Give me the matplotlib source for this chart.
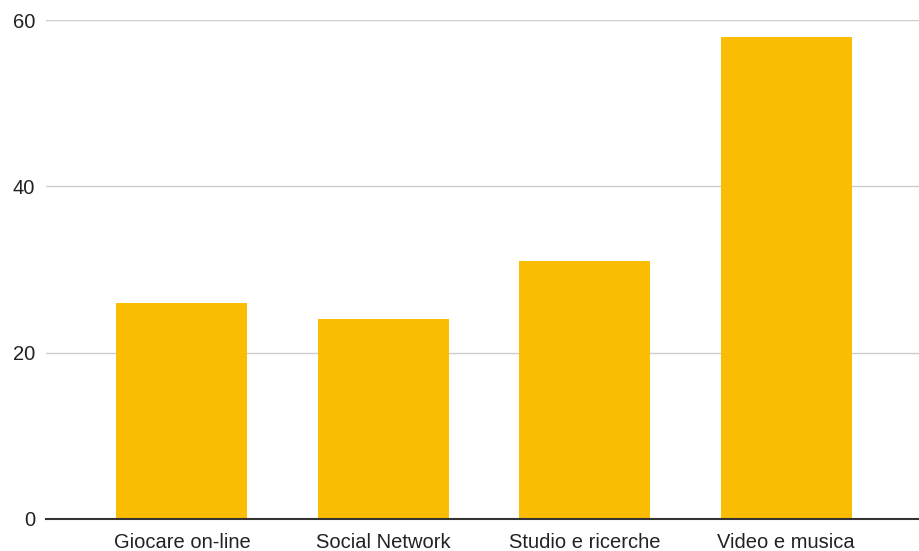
import matplotlib
matplotlib.use("Agg")
import matplotlib.pyplot as plt
import numpy as np

# dati del grafico
categorie = ["Giocare on-line", "Social Network", "Studio e ricerche", "Video e musica"]
valori = [26, 24, 31, 58]
yticks = [0, 20, 40, 60]

plt.rcParams['font.family'] = ['Liberation Sans', 'DejaVu Sans']

fig = plt.figure(figsize=(9.2, 5.51), dpi=100)
ax = fig.add_axes([46 / 920, 32 / 551, 1 - 46 / 920, (519 - 20) / 551])

x = np.arange(len(categorie))
ax.bar(x, valori, width=0.65, color="#FBBC04", zorder=3)

ax.set_xlim(-0.675, 3.665)
ax.set_ylim(0, 60)
ax.set_yticks(yticks)
ax.set_xticks(x)
ax.set_xticklabels(categorie)
ax.tick_params(axis="both", length=0, labelsize=14.5, colors="#222222")
ax.tick_params(axis="y", pad=8)
ax.tick_params(axis="x", pad=10)

ax.grid(axis="y", color="#cccccc", linewidth=1, zorder=0)
for s in ["top", "right", "left"]:
    ax.spines[s].set_visible(False)
ax.spines["bottom"].set_color("#333333")
ax.spines["bottom"].set_linewidth(1.5)
ax.spines["bottom"].set_zorder(4)

fig.savefig("out.png", dpi=100)
